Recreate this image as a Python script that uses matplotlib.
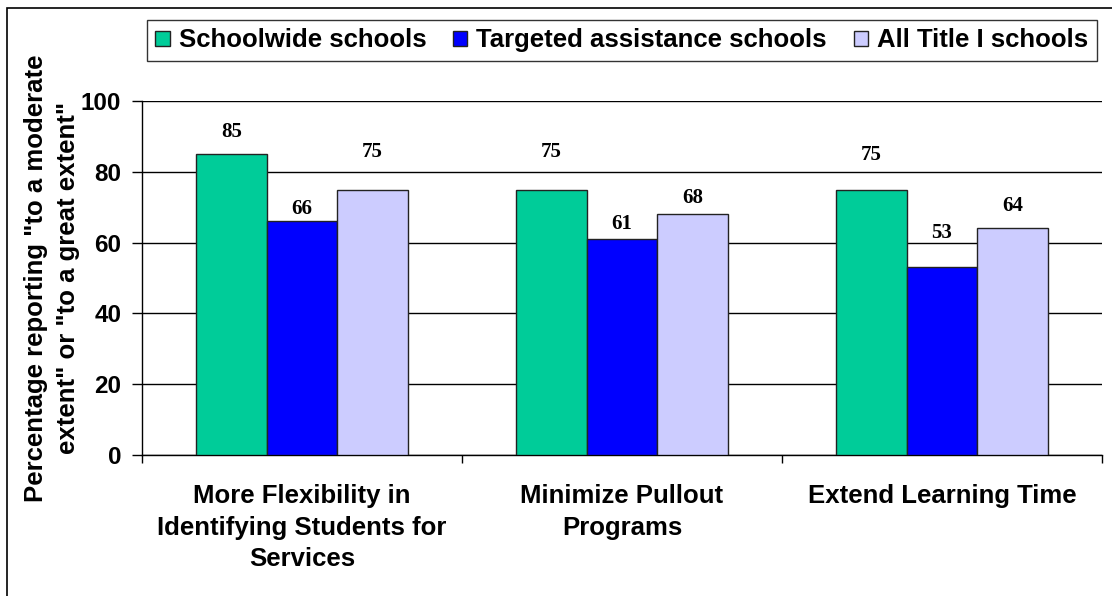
import numpy as np
import matplotlib
matplotlib.use('Agg')
import matplotlib.pyplot as plt
from matplotlib.patches import Rectangle

# データ
categories = ['More Flexibility in\nIdentifying Students for\nServices',
              'Minimize Pullout\nPrograms',
              'Extend Learning Time']
series_names = ['Schoolwide schools', 'Targeted assistance schools', 'All Title I schools']
schoolwide = [85, 75, 75]
targeted = [66, 61, 53]
all_title1 = [75, 68, 64]
y_ticks = [0, 20, 40, 60, 80, 100]

# 見た目
colors = ['#00CC99', '#0000FF', '#CCCCFF']
bar_w = 0.22
# ラベルの位置 (バー上端からのずれ, pt)
label_offsets = [[16, 9, 27], [27, 11, 12], [25, 25, 16]]

plt.rcParams['font.family'] = ['Liberation Sans', 'DejaVu Sans']
plt.rcParams['font.weight'] = 'bold'

fig = plt.figure(figsize=(11.12, 5.96), dpi=100)
ax = fig.add_axes([142 / 1112, 1 - 455 / 596, 960 / 1112, 354 / 596])

# 外枠
fig.patches.append(Rectangle((7 / 1112, -0.1), 1.2, 1 - 8 / 596 + 0.1,
                             transform=fig.transFigure, fill=False,
                             edgecolor='black', linewidth=1.2))

x = np.arange(len(categories))
all_series = [schoolwide, targeted, all_title1]
for i, (vals, name, c) in enumerate(zip(all_series, series_names, colors)):
    pos = x + (i - 1) * bar_w
    ax.bar(pos, vals, width=bar_w, color=c, edgecolor='#222222',
           linewidth=1.0, label=name, zorder=3)
    for j, v in enumerate(vals):
        ax.annotate(str(v), (pos[j], v), xytext=(0, label_offsets[j][i]),
                    textcoords='offset points', ha='center', va='center',
                    fontsize=15, fontweight='bold', family='Liberation Serif')

ax.set_xlim(-0.5, 2.5)
ax.set_ylim(0, 100)
ax.set_yticks(y_ticks)
ax.yaxis.grid(True, color='black', linewidth=1.0)
ax.set_axisbelow(True)
for s in ['top', 'right']:
    ax.spines[s].set_visible(False)
ax.spines['left'].set_linewidth(1.0)
ax.spines['bottom'].set_linewidth(1.0)

ax.tick_params(axis='y', direction='out', length=7, width=1, pad=8, labelsize=17.5)
ax.set_xticks(x)
ax.set_xticklabels(categories, fontsize=18.5, fontweight='bold', linespacing=1.4)
ax.set_xticks([-0.5, 0.5, 1.5, 2.5], minor=True)
ax.tick_params(axis='x', which='major', length=0, pad=21)
ax.tick_params(axis='x', which='minor', direction='out', length=6, width=1)

fig.text(52 / 1112, 1 - 278 / 596,
         'Percentage reporting "to a moderate\nextent" or "to a great extent"',
         rotation=90, ha='center', va='center', multialignment='center',
         fontsize=18.5, fontweight='bold', linespacing=1.45)

leg = fig.legend(loc='upper left', bbox_to_anchor=(147 / 1112, 1 - 20 / 596),
                 ncol=3, frameon=True, fancybox=False, fontsize=18.5,
                 handlelength=0.55, handleheight=0.55, handletextpad=0.35,
                 columnspacing=1.05, borderpad=0.33, borderaxespad=0)
leg.get_frame().set_edgecolor('black')
leg.get_frame().set_linewidth(1.0)

plt.savefig('out.png', dpi=100)
plt.close()
